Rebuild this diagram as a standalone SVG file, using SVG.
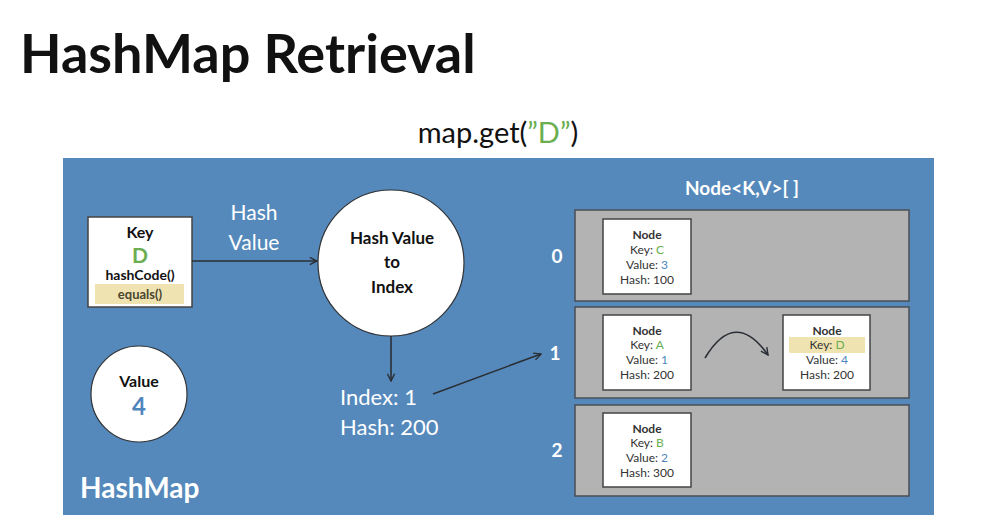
<svg xmlns="http://www.w3.org/2000/svg" width="989" height="522" viewBox="0 0 989 522">
<defs>
<style>
text{font-family:Lato,"Open Sans","Liberation Sans",sans-serif}
.b{font-weight:bold}
.w{fill:#ffffff}
.k{fill:#111111}
.g{fill:#6aae50}
.bl{fill:#4f86be}
.nt{font-size:12px;fill:#333333;text-anchor:middle}
.row{fill:#b3b3b3;stroke:#4a4f55;stroke-width:1.5}
.nbox{fill:#ffffff;stroke:#444444;stroke-width:1.5}
.conn{fill:none;stroke:#2a2f35;stroke-width:1.6}
.hl{fill:#efe3b2}
</style>
<marker id="ah" viewBox="0 0 10 10" refX="9" refY="5" markerWidth="9" markerHeight="9" markerUnits="userSpaceOnUse" orient="auto">
<path d="M1,1 L9,5 L1,9" fill="none" stroke="#2a2f35" stroke-width="1.6"/>
</marker>
</defs>
<rect width="989" height="522" fill="#ffffff"/>
<text x="20" y="73" class="b k" font-size="54">HashMap Retrieval</text>
<text x="498" y="143" class="k" font-size="29" text-anchor="middle">map.get(<tspan class="g">”D”</tspan>)</text>

<g id="hashmap">
<rect x="63" y="158" width="871" height="357" fill="#5589bb"/>
<text x="80" y="498" class="b w" font-size="28">HashMap</text>
</g>

<g id="key">
<rect x="88" y="217" width="104" height="90" fill="#ffffff" stroke="#444" stroke-width="1.5"/>
<rect x="95" y="284" width="89" height="20" class="hl"/>
<text x="140" y="238" class="b k" font-size="16" text-anchor="middle">Key</text>
<text x="140" y="263" class="b g" font-size="21" text-anchor="middle">D</text>
<text x="140" y="280" class="b k" font-size="14" text-anchor="middle">hashCode()</text>
<text x="140" y="299" class="b" fill="#4a4630" font-size="13" text-anchor="middle">equals()</text>
</g>

<g id="value">
<circle cx="139" cy="394" r="48" fill="#ffffff" stroke="#333" stroke-width="1.2"/>
<text x="139" y="387" class="b k" font-size="16" text-anchor="middle">Value</text>
<text x="139" y="415" class="b bl" font-size="24" text-anchor="middle">4</text>
</g>

<g id="hashlabel">
<text x="254" y="220" class="w" font-size="21" text-anchor="middle">Hash</text>
<text x="254" y="250" class="w" font-size="21" text-anchor="middle">Value</text>
</g>

<g id="hashtoindex">
<circle cx="391" cy="263" r="73" fill="#ffffff" stroke="#333" stroke-width="1.2"/>
<text x="392" y="244" class="b k" font-size="17" text-anchor="middle">Hash Value</text>
<text x="392" y="268" class="b k" font-size="17" text-anchor="middle">to</text>
<text x="392" y="293" class="b k" font-size="17" text-anchor="middle">Index</text>
</g>

<g id="result">
<text x="340" y="405" class="w" font-size="22">Index: 1</text>
<text x="340" y="435" class="w" font-size="22">Hash: 200</text>
</g>

<g id="array">
<text x="742" y="195" class="b w" font-size="19" text-anchor="middle">Node&lt;K,V&gt;[ ]</text>
<rect x="575" y="210" width="334" height="91" class="row"/>
<rect x="575" y="307" width="334" height="91" class="row"/>
<rect x="575" y="405" width="334" height="91" class="row"/>
<text x="557" y="263" class="b w" font-size="19" text-anchor="middle">0</text>
<text x="555" y="360" class="b w" font-size="19" text-anchor="middle">1</text>
<text x="557" y="457" class="b w" font-size="19" text-anchor="middle">2</text>
</g>

<g id="nodeC">
<rect x="603" y="219" width="88" height="75" class="nbox"/>
<text x="647" y="239" class="nt b" fill="#111">Node</text>
<text x="647" y="254" class="nt">Key: <tspan class="g">C</tspan></text>
<text x="647" y="269" class="nt">Value: <tspan class="bl">3</tspan></text>
<text x="647" y="284" class="nt">Hash: 100</text>
</g>

<g id="nodeA">
<rect x="603" y="315" width="88" height="75" class="nbox"/>
<text x="647" y="335" class="nt b" fill="#111">Node</text>
<text x="647" y="349" class="nt">Key: <tspan class="g">A</tspan></text>
<text x="647" y="364" class="nt">Value: <tspan class="bl">1</tspan></text>
<text x="647" y="379" class="nt">Hash: 200</text>
</g>

<g id="nodeB">
<rect x="603" y="413" width="88" height="74" class="nbox"/>
<text x="647" y="433" class="nt b" fill="#111">Node</text>
<text x="647" y="447" class="nt">Key: <tspan class="g">B</tspan></text>
<text x="647" y="462" class="nt">Value: <tspan class="bl">2</tspan></text>
<text x="647" y="477" class="nt">Hash: 300</text>
</g>

<g id="nodeD">
<rect x="783" y="315" width="87" height="75" class="nbox"/>
<rect x="789" y="337" width="76" height="16" class="hl"/>
<text x="827" y="335" class="nt b" fill="#111">Node</text>
<text x="827" y="349" class="nt">Key: <tspan class="g">D</tspan></text>
<text x="827" y="364" class="nt">Value: <tspan class="bl">4</tspan></text>
<text x="827" y="379" class="nt">Hash: 200</text>
</g>

<g id="connectors">
<line x1="192" y1="261" x2="317" y2="261" class="conn" marker-end="url(#ah)"/>
<line x1="391" y1="336" x2="391" y2="381" class="conn" marker-end="url(#ah)"/>
<line x1="433" y1="394" x2="541" y2="354" class="conn" marker-end="url(#ah)"/>
<path d="M705,358 Q735,308 768,355" class="conn" marker-end="url(#ah)"/>
</g>
</svg>
